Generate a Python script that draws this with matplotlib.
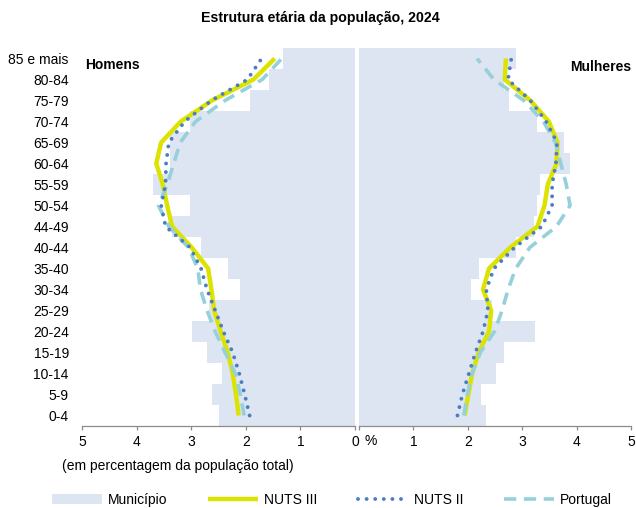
import matplotlib
matplotlib.use("Agg")
import matplotlib.pyplot as plt
from matplotlib.lines import Line2D
from matplotlib.patches import Patch

plt.rcParams['font.family'] = ['Liberation Sans', 'DejaVu Sans']

# Age groups (bottom -> top)
age_groups = ['0-4', '5-9', '10-14', '15-19', '20-24', '25-29', '30-34', '35-40',
              '40-44', '44-49', '50-54', '55-59', '60-64', '65-69', '70-74',
              '75-79', '80-84', '85 e mais']

# Homens (% of total population)
men_municipio = [2.49, 2.61, 2.43, 2.71, 2.99, 2.68, 2.10, 2.32, 2.82, 3.35,
                 3.02, 3.70, 3.39, 3.38, 3.02, 1.93, 1.58, 1.31]
men_nuts3 = [2.13, 2.18, 2.24, 2.33, 2.46, 2.58, 2.63, 2.69, 2.99, 3.35,
             3.44, 3.52, 3.64, 3.55, 3.19, 2.62, 1.86, 1.47]
men_nuts2 = [1.93, 2.02, 2.12, 2.24, 2.41, 2.56, 2.71, 2.82, 3.02, 3.47,
             3.55, 3.47, 3.46, 3.41, 3.12, 2.63, 1.97, 1.71]
men_portugal = [2.03, 2.10, 2.19, 2.38, 2.56, 2.71, 2.83, 2.88, 3.05, 3.41,
                3.60, 3.44, 3.32, 3.20, 2.92, 2.38, 1.70, 1.34]

# Mulheres (% of total population)
women_municipio = [2.33, 2.25, 2.51, 2.66, 3.24, 2.45, 2.05, 2.20, 2.89, 3.22,
                   3.27, 3.33, 3.87, 3.77, 3.27, 2.75, 2.66, 2.89]
women_nuts3 = [1.94, 2.01, 2.08, 2.20, 2.39, 2.43, 2.28, 2.39, 2.78, 3.28,
               3.41, 3.47, 3.63, 3.65, 3.49, 3.15, 2.68, 2.70]
women_nuts2 = [1.81, 1.90, 2.02, 2.14, 2.28, 2.37, 2.34, 2.48, 2.86, 3.36,
               3.55, 3.55, 3.62, 3.64, 3.44, 3.15, 2.74, 2.80]
women_portugal = [1.93, 1.99, 2.08, 2.23, 2.49, 2.63, 2.74, 2.88, 3.14, 3.63,
                  3.88, 3.81, 3.71, 3.61, 3.39, 3.03, 2.48, 2.17]

x_ticks = [0, 1, 2, 3, 4, 5]

BAR_C = '#dce5f1'
N3_C = '#dde300'
N2_C = '#4a7ec4'
PT_C = '#96d0da'
AX_C = '#8c8c8c'
FS = 10

N3_STYLE = dict(color=N3_C, lw=3.2, solid_capstyle='butt')
N2_STYLE = dict(color=N2_C, lw=2.8, linestyle=(0, (0.01, 2.2)), dash_capstyle='round')
PT_STYLE = dict(color=PT_C, lw=2.6, dashes=(3.4, 2.1))

W, H = 636, 508
fig = plt.figure(figsize=(W / 100, H / 100), dpi=100)

def frac(x0, x1, ytop, ybot):
    return [x0 / W, 1 - ybot / H, (x1 - x0) / W, (ybot - ytop) / H]

axL = fig.add_axes(frac(82, 355, 48, 426))
axR = fig.add_axes(frac(359, 631, 48, 426))

ypos = list(range(len(age_groups)))

def draw(ax, mun, n3, n2, pt):
    ax.barh(ypos, mun, height=1.0, color=BAR_C, edgecolor='none', zorder=1)
    ax.plot(n3, ypos, zorder=3, **N3_STYLE)
    ax.plot(pt, ypos, zorder=4, **PT_STYLE)
    ax.plot(n2, ypos, zorder=5, **N2_STYLE)
    ax.set_ylim(-0.5, len(age_groups) - 0.5)
    ax.set_xticks(x_ticks)
    for s in ['top', 'right', 'left']:
        ax.spines[s].set_visible(False)
    ax.spines['bottom'].set_color(AX_C)
    ax.spines['bottom'].set_linewidth(0.9)
    ax.tick_params(axis='x', direction='out', length=3, color=AX_C, width=0.9,
                   labelsize=FS, pad=3.5)
    ax.set_facecolor('none')

draw(axL, men_municipio, men_nuts3, men_nuts2, men_portugal)
draw(axR, women_municipio, women_nuts3, women_nuts2, women_portugal)

axL.set_xlim(5, 0)
axR.set_xlim(0, 5)
axL.set_xticklabels([str(v) for v in x_ticks])
axR.set_xticklabels([''] + [str(v) for v in x_ticks[1:]])

axL.set_yticks(ypos)
axL.set_yticklabels(age_groups, fontsize=FS)
axL.tick_params(axis='y', length=0, pad=9.5)
axR.set_yticks([])

fig.text(371 / W, 1 - 441 / H, '%', fontsize=FS, ha='center', va='center')

axL.text(0.012, 1 - (65 - 48) / 378, 'Homens', transform=axL.transAxes,
         fontsize=FS, fontweight='bold', ha='left', va='center')
axR.text(1.0, 1 - (67 - 48) / 378, 'Mulheres', transform=axR.transAxes,
         fontsize=FS, fontweight='bold', ha='right', va='center')

fig.text(320 / W, 1 - 18 / H, 'Estrutura etária da população, 2024',
         fontsize=10.2, fontweight='bold', ha='center', va='center')
fig.text(62 / W, 1 - 466 / H, '(em percentagem da população total)',
         fontsize=FS, ha='left', va='center')

handles = [
    Patch(facecolor=BAR_C, edgecolor='none'),
    Line2D([], [], **N3_STYLE),
    Line2D([], [], **N2_STYLE),
    Line2D([], [], **PT_STYLE),
]
labels = ['Município', 'NUTS III', 'NUTS II', 'Portugal']
fig.legend(handles, labels, loc='center', bbox_to_anchor=(0.522, 1 - 500 / H),
           ncol=4, frameon=False, fontsize=FS, handlelength=3.6,
           handletextpad=0.45, columnspacing=2.9, handleheight=0.7)

fig.savefig('out.png', dpi=100, facecolor='white')
